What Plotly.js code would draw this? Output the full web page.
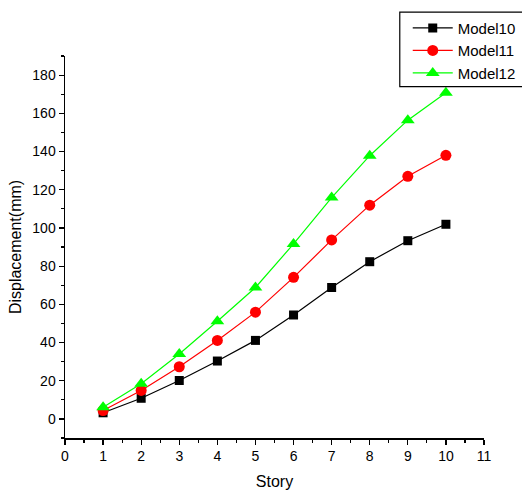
<!DOCTYPE html>
<html>
<head>
<meta charset="utf-8">
<script src="https://cdn.plot.ly/plotly-3.0.1.min.js"></script>
<style>
  html, body { margin: 0; padding: 0; background: #fff; }
  #chart { width: 522px; height: 492px; }
</style>
</head>
<body>
<div id="chart"></div>
<script>
// Storey numbers and peak displacement per storey (mm) for each model
const stories = [1, 2, 3, 4, 5, 6, 7, 8, 9, 10];
const model10 = [3.2, 10.8, 20.1, 30.3, 41.1, 54.4, 68.8, 82.3, 93.3, 101.9];
const model11 = [4.4, 14.9, 27.3, 41.1, 55.9, 74.1, 93.7, 111.9, 127.0, 138.0];
const model12 = [6.1, 18.4, 34.0, 51.1, 68.8, 91.6, 115.9, 137.8, 156.4, 170.8];
const seriesNames = ['Model10', 'Model11', 'Model12'];
const xTicks = [0, 1, 2, 3, 4, 5, 6, 7, 8, 9, 10, 11];
const yTicks = [0, 20, 40, 60, 80, 100, 120, 140, 160, 180];

const FONT = 'Arial, "Liberation Sans", sans-serif';

function series(name, y, color, symbol, size) {
  return {
    x: stories, y: y, name: name, type: 'scatter', mode: 'lines+markers',
    line: { color: color, width: 1.2 },
    marker: { color: color, symbol: symbol, size: size, line: { width: 0 } }
  };
}

const data = [
  series(seriesNames[0], model10, '#000000', 'square', 9),
  series(seriesNames[1], model11, '#ff0000', 'circle', 11),
  series(seriesNames[2], model12, '#00ff00', 'triangle-up', 12)
];

const axisCommon = {
  showgrid: false, zeroline: false, showline: true, automargin: false,
  linecolor: '#000', linewidth: 1.5, mirror: false,
  ticks: 'outside', ticklen: 5, tickwidth: 1.2, tickcolor: '#000',
  tickfont: { family: FONT, size: 14, color: '#000' },
  fixedrange: true
};

const layout = {
  width: 522, height: 492,
  margin: { l: 65, r: 38, t: 56, b: 54, pad: 0, autoexpand: false },
  paper_bgcolor: '#fff', plot_bgcolor: '#fff',
  font: { family: FONT, color: '#000' },
  xaxis: Object.assign({}, axisCommon, {
    range: [0, 11], tickmode: 'array', tickvals: xTicks,
    minor: { dtick: 0.5, ticks: 'outside', ticklen: 3, tickwidth: 1.2, tickcolor: '#000' },
    title: { text: 'Story', font: { family: FONT, size: 16, color: '#000' }, standoff: 12 }
  }),
  yaxis: Object.assign({}, axisCommon, {
    range: [-10, 190], tickmode: 'array', tickvals: yTicks,
    minor: { dtick: 10, tick0: 0, ticks: 'outside', ticklen: 3, tickwidth: 1.2, tickcolor: '#000' },
    title: { text: 'Displacement(mm)', font: { family: FONT, size: 16, color: '#000' }, standoff: 6 }
  }),
  showlegend: true,
  legend: {
    x: 0.818, y: 1.116, xanchor: 'left', yanchor: 'top',
    bgcolor: 'rgba(255,255,255,0)', borderwidth: 0,
    font: { family: FONT, size: 15, color: '#000' },
    tracegroupgap: 0, itemwidth: 40
  },
  shapes: [
    {
      type: 'rect', xref: 'paper', yref: 'paper',
      x0: 0.799, x1: 1.2, y0: 0.92, y1: 1.115,
      line: { color: '#000', width: 1.2 }, fillcolor: 'rgba(0,0,0,0)', layer: 'above'
    }
  ]
};

Plotly.newPlot('chart', data, layout, { displayModeBar: false, staticPlot: true });
</script>
</body>
</html>
